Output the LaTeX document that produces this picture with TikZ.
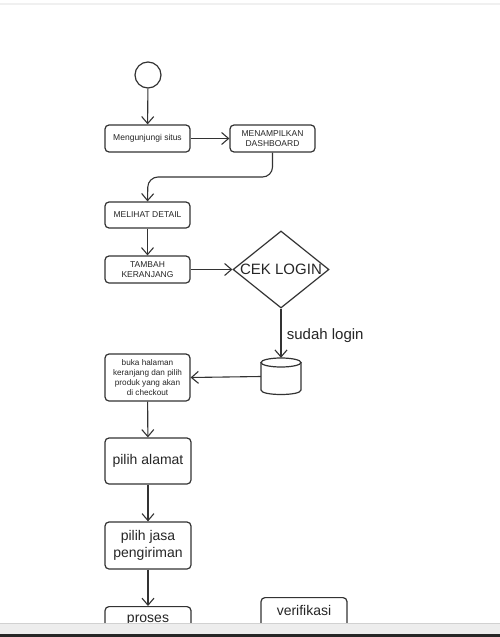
\documentclass[tikz,border=0pt]{standalone}
\usepackage{fontspec}
\setmainfont{Liberation Sans}
\usetikzlibrary{arrows.meta,shapes.geometric}
\definecolor{ink}{HTML}{333333}
\begin{document}
\begin{tikzpicture}[x=1pt,y=-1pt,
  box/.style={draw=ink, line width=1.2pt, rounded corners=4pt, fill=white, text=black!85,
    align=center, inner sep=1pt, minimum width=85pt},
  small/.style={font=\fontsize{8.5}{10.5}\selectfont},
  tiny/.style={font=\fontsize{8.2}{10}\selectfont},
  big/.style={font=\fontsize{14}{17.5}\selectfont},
  arr/.style={draw=ink, line width=1.1pt, -{Straight Barb[length=7pt,width=12pt,line width=1.1pt]}}
]
\useasboundingbox (0,0) rectangle (500,637);
\fill[white] (0,0) rectangle (500,637);
\fill[black!6] (0,3) rectangle (500,5);

\node[draw=ink, line width=1.2pt, circle, minimum size=26pt, inner sep=0] (start) at (148,75) {};
\node[box, small, minimum height=27pt] (visit) at (147.5,138.5) {Mengunjungi situs};
\node[box, small, minimum height=27pt] (dash) at (272.5,138.5) {MENAMPILKAN\\DASHBOARD};
\node[box, small, minimum height=26pt] (detail) at (147.5,215) {MELIHAT DETAIL};
\node[box, small, minimum height=27pt] (tambah) at (147.5,269.5) {TAMBAH\\KERANJANG};
\node[draw=ink, line width=1.2pt, diamond, aspect=1.25, minimum width=96pt, minimum height=77pt,
  inner sep=0, font=\fontsize{15}{17}\selectfont, text=black!85] (cek) at (281,269.5) {CEK LOGIN};
% cylinder (drawn by hand)
\node[minimum width=40pt, minimum height=37pt, inner sep=0] (db) at (281,376.5) {};
\draw[ink, line width=1.2pt, fill=white] (261,362.5) -- (261,390) .. controls (261,396) and (301,396) .. (301,390) -- (301,362.5);
\draw[ink, line width=1.2pt] (281,362.5) ellipse[x radius=20pt, y radius=4.5pt];
\node[box, tiny, minimum height=47pt] (buka) at (147.5,377.5) {buka halaman\\keranjang dan pilih\\produk yang akan\\di checkout};
\node[box, big, minimum width=86pt, minimum height=46pt] (alamat) at (148,461) {pilih alamat};
\node[box, big, minimum width=86pt, minimum height=47pt] (jasa) at (148,545.5) {pilih jasa\\pengiriman};
\node[box, big, minimum width=86pt, anchor=north, inner ysep=6pt, text height=10pt, text depth=22pt] (proses) at (148,606) {proses};
\node[box, big, minimum width=86pt, anchor=north, inner ysep=8pt, text height=10pt, text depth=22pt] (verif) at (304,597) {verifikasi};

\coordinate (bend) at (148,177);
\draw[arr] (start) -- (visit);
\draw[arr] (visit) -- (dash);
\draw[arr, rounded corners=10pt] (dash.south) |- (bend) -- (detail.north);
\draw[arr] (detail) -- (tambah);
\draw[arr] (tambah) -- (cek);
\draw[arr] (cek.south) -- node[right, font=\fontsize{15}{17}\selectfont, text=black!85, xshift=2pt, yshift=-2pt] {sudah login} (db.north);
\draw[arr] (db.west) -- (buka.east);
\draw[arr] (buka) -- (alamat);
\draw[arr] (alamat) -- (jasa);
\draw[arr] (jasa) -- (proses);

\fill[black!7] (0,623) rectangle (500,634);
\draw[black!18, line width=0.8pt] (0,623) -- (500,623);
\fill[black!85] (0,634) rectangle (500,637);
\end{tikzpicture}
\end{document}
